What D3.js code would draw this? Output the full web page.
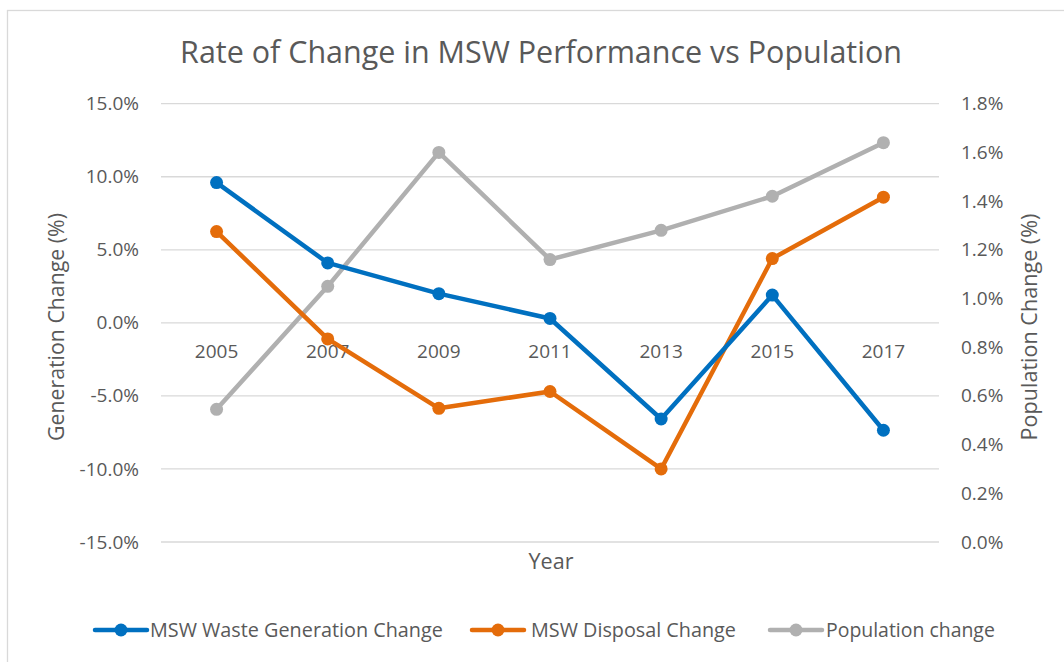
<!DOCTYPE html>
<html>
<head>
<meta charset="utf-8">
<script src="https://cdn.jsdelivr.net/npm/d3@7"></script>
<style>
  html, body { margin: 0; padding: 0; background: #fff; }
  svg { display: block; font-family: "Open Sans", "Noto Sans", sans-serif; }
</style>
</head>
<body>
<svg id="chart" width="1064" height="662"></svg>
<script>
// ---- data ----
const years = ["2005", "2007", "2009", "2011", "2013", "2015", "2017"];
const generationChange = [9.6, 4.1, 2.0, 0.3, -6.58, 1.9, -7.35];
const disposalChange = [6.25, -1.1, -5.85, -4.7, -10.0, 4.4, 8.6];
const populationChange = [0.545, 1.05, 1.60, 1.16, 1.28, 1.42, 1.64];
const leftTicks = [-15, -10, -5, 0, 5, 10, 15];
const rightTicks = [0, 0.2, 0.4, 0.6, 0.8, 1.0, 1.2, 1.4, 1.6, 1.8];
const seriesNames = ["MSW Waste Generation Change", "MSW Disposal Change", "Population change"];
const seriesColors = ["#0070C0", "#E46C0A", "#B0B0B0"];
const titleText = "Rate of Change in MSW Performance vs Population";

// ---- layout ----
const svg = d3.select("#chart");
const W = 1064, H = 662;
const plot = { left: 161, right: 939, top: 103.7, bottom: 542 };
const textColor = "#595959";
const pct = d => d.toFixed(1) + "%";

// helper to fit text to a target width
function fit(sel, target) {
  const node = sel.node();
  const fs = parseFloat(sel.attr("font-size"));
  const w = node.getComputedTextLength();
  if (w > 0) sel.attr("font-size", (fs * target / w).toFixed(2));
  return sel;
}

// border
svg.append("rect")
  .attr("x", 7.5).attr("y", 10.5)
  .attr("width", W + 20).attr("height", H + 20)
  .attr("fill", "none").attr("stroke", "#D9D9D9").attr("stroke-width", 1.3);

const x = d3.scaleBand().domain(years).range([plot.left, plot.right]);
const yL = d3.scaleLinear().domain([-15, 15]).range([plot.bottom, plot.top]);
const yR = d3.scaleLinear().domain([0, 1.8]).range([plot.bottom, plot.top]);
const cx = d => x(d) + x.bandwidth() / 2;

// gridlines
svg.append("g").selectAll("line").data(leftTicks).join("line")
  .attr("x1", plot.left).attr("x2", plot.right)
  .attr("y1", d => yL(d)).attr("y2", d => yL(d))
  .attr("stroke", "#D9D9D9").attr("stroke-width", 1.3);

// left axis
const leftAxis = d3.axisLeft(yL).tickValues(leftTicks)
  .tickFormat(pct).tickSize(0).tickPadding(22);
const gL = svg.append("g").attr("transform", `translate(${plot.left},0)`).call(leftAxis);
gL.select(".domain").remove();
gL.selectAll("text").attr("font-size", 19).attr("fill", textColor)
  .attr("font-family", "'Open Sans', sans-serif");

// right axis
const rightAxis = d3.axisRight(yR).tickValues(rightTicks)
  .tickFormat(pct).tickSize(0).tickPadding(22);
const gR = svg.append("g").attr("transform", `translate(${plot.right},0)`).call(rightAxis);
gR.select(".domain").remove();
gR.selectAll("text").attr("font-size", 19).attr("fill", textColor)
  .attr("font-family", "'Open Sans', sans-serif");

// category axis at zero
const bottomAxis = d3.axisBottom(x).tickSize(0).tickPadding(22);
const gB = svg.append("g").attr("transform", `translate(0,${yL(0)})`).call(bottomAxis);
gB.select(".domain").remove();
gB.selectAll("text").attr("font-size", 19).attr("fill", textColor)
  .attr("font-family", "'Open Sans', sans-serif");

// title
fit(svg.append("text").attr("x", 541).attr("y", 63)
  .attr("text-anchor", "middle").attr("font-size", 30).attr("fill", textColor)
  .text(titleText), 722);

// axis titles
fit(svg.append("text")
  .attr("transform", "translate(57,327) rotate(-90)")
  .attr("text-anchor", "middle").attr("dy", "0.35em")
  .attr("font-size", 20).attr("fill", textColor)
  .text("Generation Change (%)"), 228);
fit(svg.append("text")
  .attr("transform", "translate(1029,327) rotate(-90)")
  .attr("text-anchor", "middle").attr("dy", "0.35em")
  .attr("font-size", 20).attr("fill", textColor)
  .text("Population Change (%)"), 227);
fit(svg.append("text").attr("x", 551).attr("y", 569)
  .attr("text-anchor", "middle").attr("font-size", 20).attr("fill", textColor)
  .text("Year"), 45);

// series
const series = [
  { values: generationChange, y: yL },
  { values: disposalChange, y: yL },
  { values: populationChange, y: yR }
];
const drawOrder = [2, 1, 0];
drawOrder.forEach(i => {
  const s = series[i];
  const pts = years.map((yr, k) => [cx(yr), s.y(s.values[k])]);
  const g = svg.append("g");
  g.append("path").attr("d", d3.line()(pts))
    .attr("fill", "none").attr("stroke", seriesColors[i])
    .attr("stroke-width", 4.5).attr("stroke-linejoin", "round").attr("stroke-linecap", "round");
  g.selectAll("circle").data(pts).join("circle")
    .attr("cx", d => d[0]).attr("cy", d => d[1]).attr("r", 6.5)
    .attr("fill", seriesColors[i]);
});

// legend
const legendItems = [
  { lineX: 95, textX: 150, textW: 293 },
  { lineX: 472, textX: 531, textW: 205 },
  { lineX: 770, textX: 826, textW: 169 }
];
const ly = 630;
legendItems.forEach((it, i) => {
  const g = svg.append("g");
  g.append("line").attr("x1", it.lineX).attr("x2", it.lineX + 52)
    .attr("y1", ly).attr("y2", ly)
    .attr("stroke", seriesColors[i]).attr("stroke-width", 4.5).attr("stroke-linecap", "round");
  g.append("circle").attr("cx", it.lineX + 26).attr("cy", ly).attr("r", 6.5).attr("fill", seriesColors[i]);
  fit(g.append("text").attr("x", it.textX).attr("y", ly).attr("dy", "0.35em")
    .attr("font-size", 19).attr("fill", textColor).text(seriesNames[i]), it.textW);
});
</script>
</body>
</html>
